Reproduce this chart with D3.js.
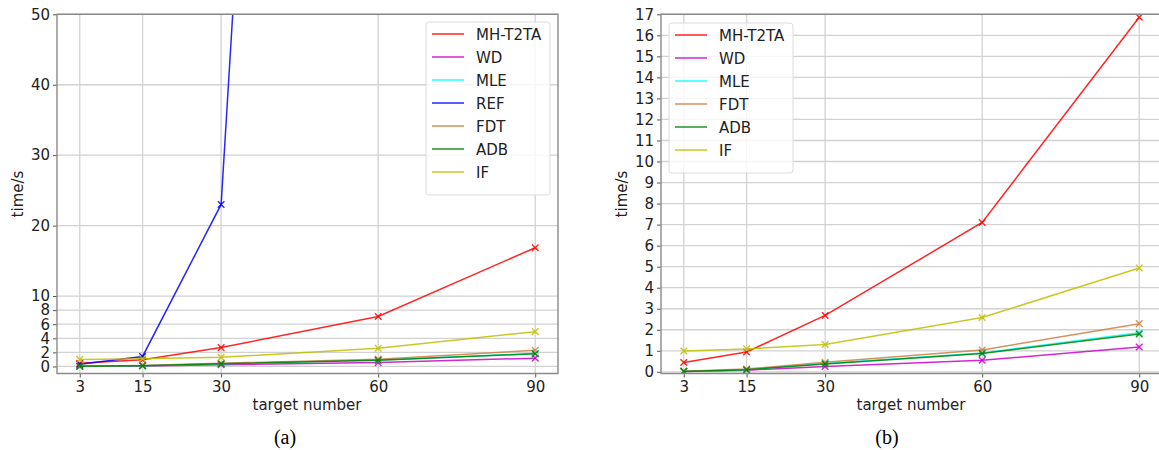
<!DOCTYPE html>
<html><head><meta charset="utf-8">
<script src="https://cdn.jsdelivr.net/npm/d3@7"></script>
<style>
body{margin:0;background:#fff;}
</style></head>
<body><svg id="c" width="1159" height="450" font-family="DejaVu Sans"></svg>
<script>
const targets = [3, 15, 30, 60, 90];
const xTicks = [3, 15, 30, 60, 90];
const yTicksA = [0, 2, 4, 6, 8, 10, 20, 30, 40, 50];
const yTicksB = d3.range(0, 18, 1);

const mhT2ta = [0.44, 0.94, 2.68, 7.1, 16.86];
const wd     = [0.02, 0.08, 0.25, 0.55, 1.18];
const mle    = [0.02, 0.10, 0.39, 0.90, 1.86];
const ref    = [0.3, 1.42, 23.0, 389, null];
const fdt    = [0.03, 0.13, 0.45, 1.04, 2.29];
const adb    = [0.02, 0.10, 0.37, 0.87, 1.80];
const iff    = [0.99, 1.09, 1.30, 2.58, 4.94];

const seriesA = [
  {name:"MH-T2TA", values:mhT2ta, color:"#ff0000"},
  {name:"WD", values:wd, color:"#cc00cc"},
  {name:"MLE", values:mle, color:"#00ffff"},
  {name:"REF", values:ref, color:"#0000ff"},
  {name:"FDT", values:fdt, color:"#cd7f45"},
  {name:"ADB", values:adb, color:"#008000"},
  {name:"IF", values:iff, color:"#bfbf00"}
];
const seriesB = seriesA.filter(s => s.name !== "REF");

const svg = d3.select("#c");

function panel(cfg){
  const g = svg.append("g");
  const x = d3.scaleLinear().domain([-1.35, 94.35]).range([cfg.x0, cfg.x0 + 501]);
  const y = d3.scaleLinear().domain(cfg.yDomain).range([373.5, 14.3]);
  const clipId = "clip" + cfg.id;
  svg.append("clipPath").attr("id", clipId).append("rect")
    .attr("x", cfg.x0).attr("y", 14.3).attr("width", 501).attr("height", 373.5-14.3);

  // grid
  g.append("g").selectAll("line").data(cfg.yTicks).join("line")
    .attr("x1", cfg.x0).attr("x2", cfg.x0+501)
    .attr("y1", d=>y(d)).attr("y2", d=>y(d))
    .attr("stroke", "#d2d2d2").attr("stroke-width", 1.3);
  g.append("g").selectAll("line").data(xTicks).join("line")
    .attr("y1", 14.3).attr("y2", 373.5)
    .attr("x1", d=>x(d)).attr("x2", d=>x(d))
    .attr("stroke", "#d2d2d2").attr("stroke-width", 1.3);

  // lines
  const lg = g.append("g").attr("clip-path", `url(#${clipId})`);
  const line = d3.line().defined(d=>d[1]!==null).x(d=>x(d[0])).y(d=>y(d[1]));
  cfg.series.forEach(s => {
    const pts = targets.map((t,i)=>[t, s.values[i]]);
    lg.append("path").datum(pts).attr("d", line)
      .attr("fill","none").attr("stroke", s.color).attr("stroke-width",1.5).attr("opacity",0.85);
    lg.append("g").selectAll("path").data(pts.filter(p=>p[1]!==null)).join("path")
      .attr("d","M-3.3,-3.3L3.3,3.3M-3.3,3.3L3.3,-3.3")
      .attr("transform", p=>`translate(${x(p[0])},${y(p[1])})`)
      .attr("stroke", s.color).attr("stroke-width",1.4).attr("fill","none").attr("opacity",0.85);
  });

  // axes
  const xa = g.append("g").attr("transform","translate(0,373.5)")
    .call(d3.axisBottom(x).tickValues(xTicks).tickSize(4).tickPadding(4).tickFormat(d3.format("d")));
  const ya = g.append("g").attr("transform",`translate(${cfg.x0},0)`)
    .call(d3.axisLeft(y).tickValues(cfg.yTicks).tickSize(4).tickPadding(3).tickFormat(d3.format("d")));
  [xa, ya].forEach(a=>{
    a.attr("font-family","DejaVu Sans").attr("font-size",15);
    a.select(".domain").remove();
    a.selectAll("line").attr("stroke","#555");
    a.selectAll("text").attr("fill","#222");
  });
  // spines
  g.append("path").attr("d",`M${cfg.x0},14.3V373.5H${cfg.x0+501}V14.3Z`)
    .attr("fill","none").attr("stroke","#8a8a8a").attr("stroke-width",1.4);

  // labels
  g.append("text").attr("x", cfg.x0+250).attr("y", 410).attr("text-anchor","middle")
    .attr("font-size",15).attr("fill","#222").text("target number");
  g.append("text").attr("transform",`translate(${cfg.x0-34},194) rotate(-90)`)
    .attr("text-anchor","middle").attr("font-size",15).attr("fill","#222").text("time/s");
  g.append("text").attr("x", cfg.capX).attr("y", 444).attr("text-anchor","middle")
    .attr("font-size",20).style("font-family","'Liberation Serif', 'Times New Roman', serif").attr("fill","#000").text(cfg.caption);

  // legend
  const L = g.append("g").attr("transform",`translate(${cfg.legX},${cfg.legY})`);
  const n = cfg.series.length;
  L.append("rect").attr("x",0).attr("y",0).attr("width",124).attr("height", 12 + n*23)
    .attr("rx",3).attr("fill","#fff").attr("fill-opacity",0.8).attr("stroke","#dcdcdc");
  cfg.series.forEach((s,i)=>{
    const yy = 12 + i*23;
    L.append("line").attr("x1",6).attr("x2",38).attr("y1",yy).attr("y2",yy)
      .attr("stroke",s.color).attr("stroke-width",1.5).attr("opacity",0.85);
    L.append("text").attr("x",50).attr("y",yy+5.5).attr("font-size",15).attr("fill","#222").text(s.name);
  });
}

panel({id:"a", x0:57, yDomain:[-1, 50], yTicks:yTicksA, series:seriesA, caption:"(a)", capX:285, legX:426, legY:22});
panel({id:"b", x0:661, yDomain:[-0.08, 17], yTicks:yTicksB, series:seriesB, caption:"(b)", capX:887, legX:669, legY:23});
</script></body></html>
